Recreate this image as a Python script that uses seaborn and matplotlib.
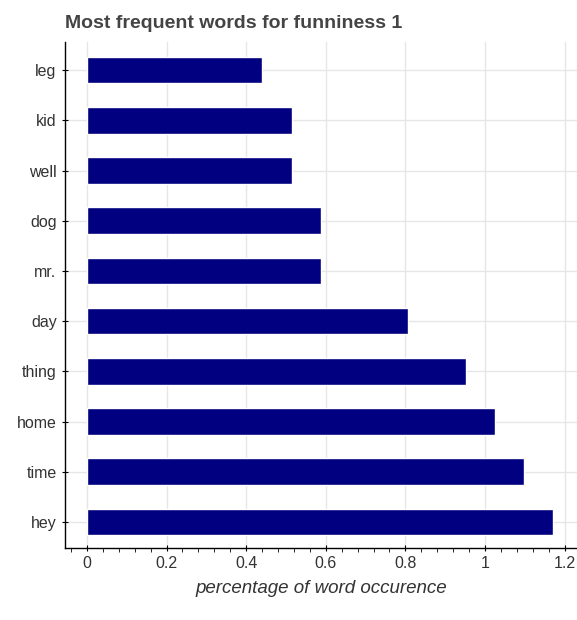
import matplotlib
matplotlib.use("Agg")
import matplotlib.pyplot as plt
import seaborn as sns
import pandas as pd

words = ["leg", "kid", "well", "dog", "mr.", "day", "thing", "home", "time", "hey"]
pct = [0.441, 0.515, 0.515, 0.588, 0.588, 0.806, 0.952, 1.025, 1.098, 1.171]
df = pd.DataFrame({"word": words, "pct": pct})

sns.set_style("white")
plt.rcParams['font.family'] = ['Liberation Sans', 'DejaVu Sans']

fig = plt.figure(figsize=(5.77, 6.2), dpi=100)
ax = fig.add_axes([65/577, 72/620, 512/577, 506/620])
sns.barplot(data=df, x="pct", y="word", color="#000080", width=0.53,
            saturation=1, ax=ax, zorder=3)
ax.set_xlim(-0.055, 1.231)
ax.set_ylim(9.52, -0.56)
ax.set_xticks([0, 0.2, 0.4, 0.6, 0.8, 1.0, 1.2])
ax.set_xticklabels(["0", "0.2", "0.4", "0.6", "0.8", "1", "1.2"])
ax.grid(True, color="#e6e6e6", linewidth=1, zorder=0)
ax.set_axisbelow(True)
for s in ["top", "right"]:
    ax.spines[s].set_visible(False)
for s in ["left", "bottom"]:
    ax.spines[s].set_color("black")
    ax.spines[s].set_linewidth(1)
ax.tick_params(axis="both", length=5, color="black", labelsize=11.5, labelcolor="#333333",
               bottom=True, left=True, direction="inout")
ax.xaxis.set_minor_locator(matplotlib.ticker.MultipleLocator(0.04))
ax.tick_params(axis="x", which="minor", length=3, bottom=True, color="black")
ax.set_xlabel("percentage of word occurence", fontsize=13.5, style="italic", color="#333333",
              labelpad=6)
ax.set_ylabel("")
fig.text(65/577, 1 - 24/620, "Most frequent words for funniness 1", fontsize=14,
         fontweight="bold", color="#444444", va="center")
fig.savefig("out.png", dpi=100)
